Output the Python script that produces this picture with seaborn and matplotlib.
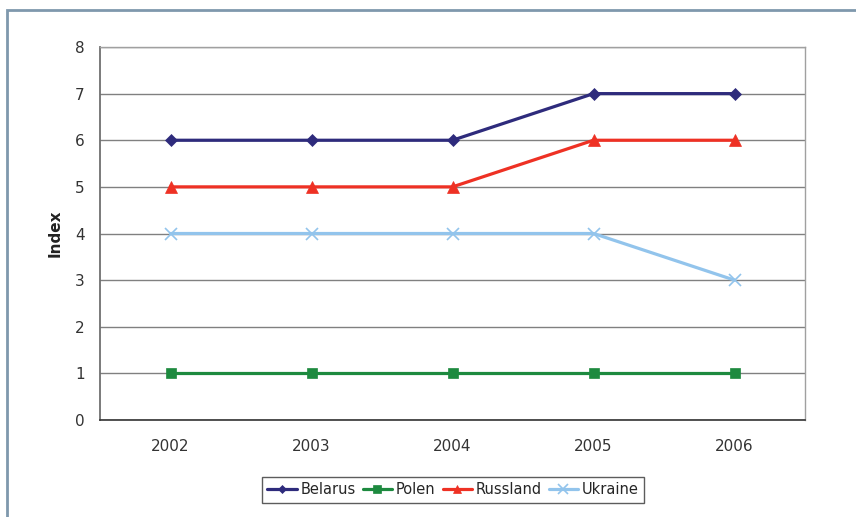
import matplotlib
matplotlib.use("Agg")
import matplotlib.pyplot as plt
import matplotlib.patches as mpatches
import seaborn as sns
import pandas as pd

years = ["2002", "2003", "2004", "2005", "2006"]
belarus = [6, 6, 6, 7, 7]
polen = [1, 1, 1, 1, 1]
russland = [5, 5, 5, 6, 6]
ukraine = [4, 4, 4, 4, 3]

series = {"Belarus": belarus, "Polen": polen, "Russland": russland, "Ukraine": ukraine}
colors = {"Belarus": "#2e2b7c", "Polen": "#1d8a3f", "Russland": "#ee3124", "Ukraine": "#92c4ec"}
markers = {"Belarus": "D", "Polen": "s", "Russland": "^", "Ukraine": "x"}
msizes = {"Belarus": 6, "Polen": 7, "Russland": 8, "Ukraine": 9}

rows = []
for name, vals in series.items():
    for i, v in enumerate(vals):
        rows.append({"pos": i, "value": v, "land": name})
df = pd.DataFrame(rows)

sns.set_style("white")
plt.rcParams["font.family"] = ["DejaVu Sans"]

fig = plt.figure(figsize=(8.56, 5.17), dpi=100)
ax = fig.add_axes([100 / 856, 1 - 420 / 517, 705 / 856, 373 / 517])

for name in series:
    sub = df[df["land"] == name]
    sns.lineplot(data=sub, x="pos", y="value", ax=ax, color=colors[name],
                 marker=markers[name], markersize=msizes[name], linewidth=2.3,
                 markeredgecolor=colors[name], markeredgewidth=1.2 if name == "Ukraine" else 0.5,
                 label=name, zorder=3)

ax.set_xlim(-0.5, len(years) - 0.5)
ax.set_ylim(0, 8)
ax.set_yticks(range(0, 9))
ax.yaxis.grid(True, color="#808080", linewidth=1)
ax.set_axisbelow(True)

ax.set_xticks([i + 0.5 for i in range(-1, len(years))])
ax.set_xticklabels([])
ax.set_xticks(range(len(years)), minor=True)
ax.set_xticklabels(years, minor=True)
ax.tick_params(axis="x", which="major", direction="out", length=5, color="#808080", width=1)
ax.tick_params(axis="x", which="minor", length=0, pad=14, labelsize=11, labelcolor="#333333")
ax.tick_params(axis="y", direction="out", length=5, color="#555555", width=1, labelsize=11,
               labelcolor="#333333", pad=6)
ax.set_xlabel("")
ax.set_ylabel("Index", fontsize=11, fontweight="bold", color="#222222", labelpad=9)

for side in ["top", "right"]:
    ax.spines[side].set_color("#a0a0a0")
    ax.spines[side].set_linewidth(1)
ax.spines["left"].set_color("#707070")
ax.spines["left"].set_linewidth(1.3)
ax.spines["bottom"].set_color("#333333")
ax.spines["bottom"].set_linewidth(1.2)

leg = ax.legend(loc="center", bbox_to_anchor=(453 / 856, 1 - 490 / 517),
                bbox_transform=fig.transFigure, ncol=4, frameon=True, fancybox=False,
                fontsize=10.5, handlelength=2.0, columnspacing=0.5, handletextpad=0.25,
                borderpad=0.4, borderaxespad=0, markerscale=0.75, edgecolor="#333333")
leg.get_frame().set_linewidth(1)

border = mpatches.Rectangle((7 / 856, -0.1), 1.0, 1 - 10 / 517 + 0.1, transform=fig.transFigure,
                            fill=False, edgecolor="#7f98ad", linewidth=2)
fig.patches.append(border)

fig.savefig("out.png", dpi=100)
